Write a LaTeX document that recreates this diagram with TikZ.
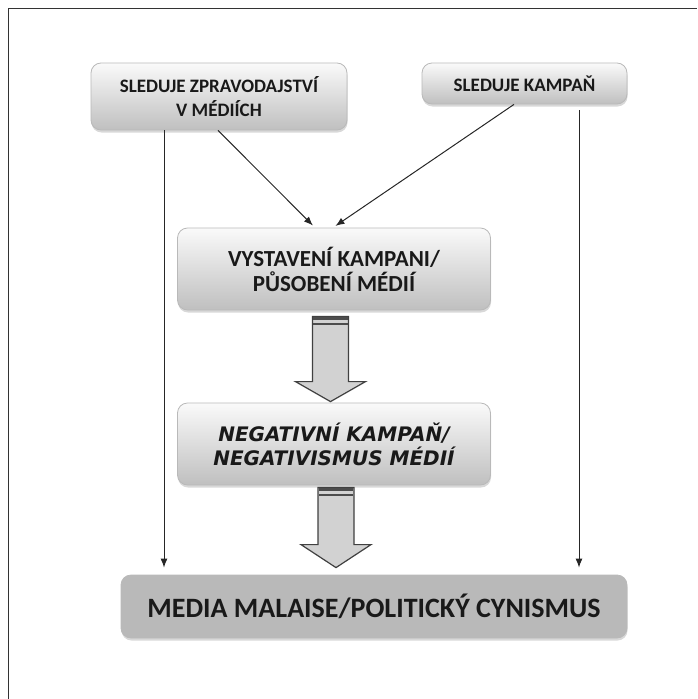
\documentclass[tikz,border=0pt]{standalone}
\usepackage{fontspec}
\setmainfont{Carlito}
\newfontfamily\heavyfont{DejaVu Sans}
\usetikzlibrary{arrows.meta,positioning,calc,shadows}
\tikzset{
  panel/.style={draw=gray!55,line width=0.8pt,rounded corners=10pt,
    top color=gray!4,bottom color=gray!50,
    drop shadow={shadow xshift=0.5pt,shadow yshift=-2.5pt,fill=gray!60},
    align=center,inner sep=0pt,text=black!90},
  toppanel/.style={panel,font=\bfseries\fontsize{19}{24}\selectfont},
  midpanel/.style={panel,font=\bfseries\fontsize{23}{25}\selectfont},
  negpanel/.style={panel,font=\heavyfont\bfseries\itshape\fontsize{20}{24}\selectfont},
  endpanel/.style={panel,top color=gray!55,middle color=gray!20,bottom color=gray!55,
    font=\bfseries\fontsize{28}{30}\selectfont},
  thinarrow/.style={-{Latex[length=9pt,width=7pt]},line width=1pt,black!85},
  blockarrow/.style={fill=gray!35,draw=black!75,line width=1.2pt,line join=miter},
  band/.style={fill=black!70}
}
\newcommand{\Panel}[6]% style, pos, name, width, height, text
{\node[#1,minimum width=#4,minimum height=#5] (#3) at (#2) {#6};}
\newcommand{\Arrow}[3]% from, to, shorten
{\draw[thinarrow,shorten >=#3] (#1) -- (#2);}
\newcommand{\BlockArrow}[3]% top, tip, head height
{\draw[blockarrow] ($(#1)+(-18,0)$) -- ($(#1)+(18,0)$) -- ($(#2)+(18,-#3)$)
    -- ($(#2)+(35,-#3)$) -- (#2) -- ($(#2)+(-35,-#3)$) -- ($(#2)+(-18,-#3)$) -- cycle;
  \fill[band] ($(#1)+(-17.4,0.6)$) rectangle ($(#1)+(17.4,3.5)$);
  \fill[band] ($(#1)+(-17.4,7)$) rectangle ($(#1)+(17.4,9)$);
}

\begin{document}
\begin{tikzpicture}[x=1pt,y=-1pt]
  \useasboundingbox (0,0) rectangle (697,699);
  \draw[black!80,line width=1pt] (8,699) -- (8,8) -- (697,8);

  \Panel{toppanel}{219,96.5}{zprav}{256pt}{67pt}{SLEDUJE ZPRAVODAJSTVÍ\\V MÉDIÍCH}
  \Panel{toppanel}{524.5,83.5}{kampan}{205pt}{41pt}{SLEDUJE KAMPAŇ}
  \Panel{midpanel}{334,269}{vystav}{313pt}{82pt}{VYSTAVENÍ KAMPANI/\\PŮSOBENÍ MÉDIÍ}
  \Panel{negpanel}{334,444}{negat}{313pt}{82pt}{NEGATIVNÍ KAMPAŇ/\\NEGATIVISMUS MÉDIÍ}
  \Panel{endpanel}{374,606.5}{malaise}{506pt}{63pt}{MEDIA MALAISE/POLITICKÝ CYNISMUS}

  \Arrow{[xshift=-55pt]zprav.south}{[xshift=-210pt]malaise.north}{7pt}
  \Arrow{[xshift=-1pt]zprav.south}{[xshift=-19pt]vystav.north}{3pt}
  \Arrow{[xshift=-10.5pt]kampan.south}{[xshift=-1pt]vystav.north}{3pt}
  \Arrow{[xshift=54.5pt,yshift=-6pt]kampan.south}{[xshift=205pt]malaise.north}{7pt}

  \BlockArrow{[xshift=-3.5pt,yshift=-6pt]vystav.south}{[xshift=-3.5pt,yshift=1pt]negat.north}{20}
  \BlockArrow{[xshift=2pt,yshift=-2pt]negat.south}{[xshift=-38pt,yshift=7pt]malaise.north}{23}
\end{tikzpicture}
\end{document}
